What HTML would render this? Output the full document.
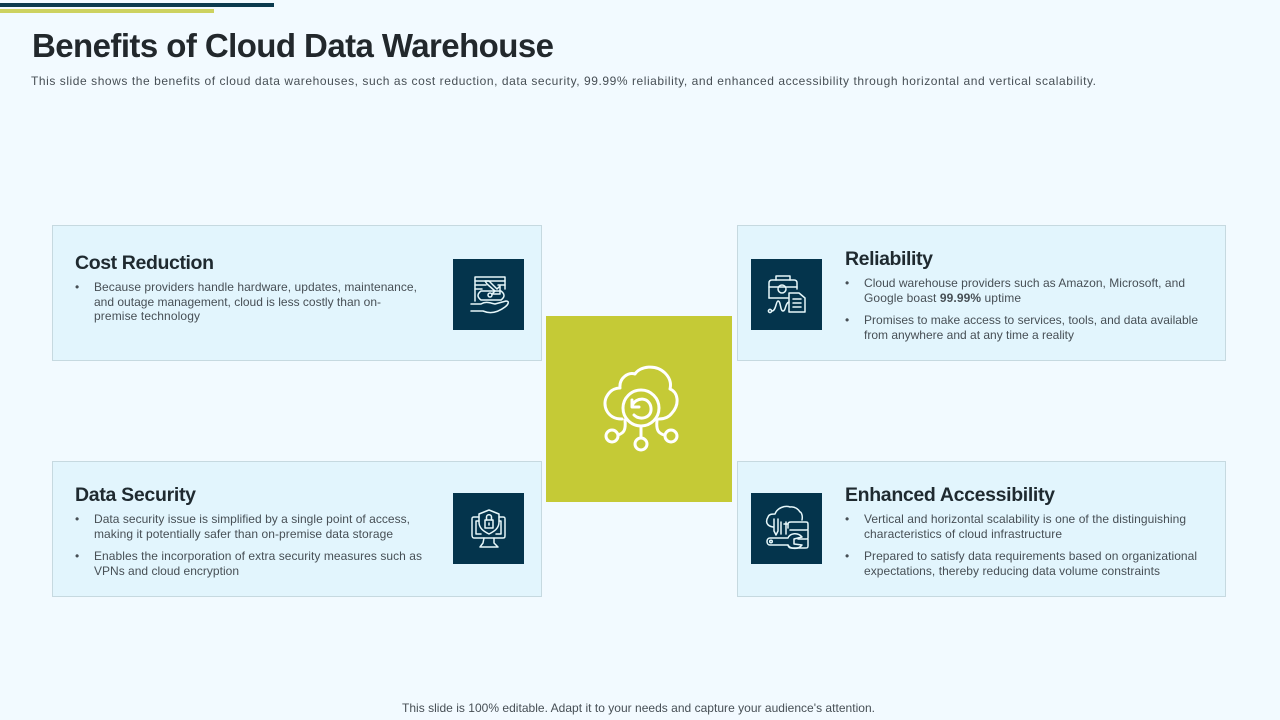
<!DOCTYPE html>
<html><head><meta charset="utf-8"><title>Benefits of Cloud Data Warehouse</title>
<style>
html,body{margin:0;padding:0;background:#f2faff}
svg{display:block}
text{font-family:"Liberation Sans",Arial,sans-serif;white-space:pre}
.t{font-weight:700;font-size:19.5px;fill:#1f2a30}
.b{font-size:12px;fill:#474f55}
.i{fill:none;stroke:#e6f7fa;stroke-width:1.5;stroke-linecap:round;stroke-linejoin:round}
.c{fill:none;stroke:#fff;stroke-width:3;stroke-linecap:round;stroke-linejoin:round}
.card{fill:#e2f5fd;stroke:#c6d9e0;stroke-width:1}
</style></head><body>
<svg width="1280" height="720" viewBox="0 0 1280 720" xmlns="http://www.w3.org/2000/svg">
<rect width="1280" height="720" fill="#f2faff"/>
<rect x="0" y="3" width="274" height="4" fill="#0b3a4e"/>
<rect x="0" y="9" width="214" height="4" fill="#cdd260"/>
<text x="32" y="57" font-size="33" font-weight="700" fill="#22282c" textLength="522" lengthAdjust="spacing">Benefits of Cloud Data Warehouse</text>
<text x="31" y="85" class="b" textLength="1065" lengthAdjust="spacing">This slide shows the benefits of cloud data warehouses, such as cost reduction, data security, 99.99% reliability, and enhanced accessibility through horizontal and vertical scalability.</text>

<rect class="card" x="52.5" y="225.5" width="489" height="135"/>
<rect class="card" x="737.5" y="225.5" width="488" height="135"/>
<rect class="card" x="52.5" y="461.5" width="489" height="135"/>
<rect class="card" x="737.5" y="461.5" width="488" height="135"/>
<rect x="546" y="316" width="186" height="186" fill="#c5ca36"/>

<!-- center icon -->
<g class="c">
<path d="M622 419 C606 419 602 404 607 396 C611 389 617 388 620 388 C619 378 628 372 635 374 C640 366 656 364 665 373 C671 379 671 385 670 389 C678 392 680 404 672 413 C669 417 665 419 659 419"/>
<circle cx="641" cy="408" r="18"/>
<path d="M632 400 L632 407 L639 407 M632 406 C636 396 650 397 651 408 C652 418 640 421 634 415" stroke-width="3"/>
<path d="M641 426 V437"/>
<circle cx="641" cy="444" r="6"/>
<path d="M625 420 C626 430 624 433 618 435"/>
<circle cx="612" cy="436" r="6"/>
<path d="M657 420 C656 430 658 433 664 435"/>
<circle cx="671" cy="436" r="6"/>
</g>

<!-- icon squares -->
<rect x="453" y="259" width="71" height="71" fill="#04344c"/>
<rect x="751" y="259" width="71" height="71" fill="#04344c"/>
<rect x="453" y="493" width="71" height="71" fill="#04344c"/>
<rect x="751" y="493" width="71" height="71" fill="#04344c"/>

<!-- cost -->
<g class="i">
<path d="M475 301 V277 H505 V289"/>
<path d="M475 281 H505 M475 285 H486 M475 289 H482 M498 285 H505"/>
<path d="M485 281 L489 281 L497 289 L500 286 L500 294 L492 294 L495 291 L487 284 Z"/>
<path d="M481 291 H501 C505 294 505 297 501 300 H481 C477 297 477 294 481 291 Z"/>
<circle cx="490" cy="295" r="2"/>
<path d="M471 304 H481 C486 301 490 303 495 304 L506 301 C510 301 508 305 505 307 C497 313 490 314 483 311 H471"/>
</g>
<!-- reliability -->
<g class="i">
<path d="M769 298 V283 C769 281 770 280 772 280 H794 C796 280 797 281 797 283 V289"/>
<path d="M776 280 V276 H790 V280"/>
<path d="M769 287 H797"/>
<circle cx="782" cy="289" r="4"/>
<path d="M769 298 H788"/>
<path d="M789 293 H799 L805 298 V312 H789 Z"/>
<path d="M793 299 H801 M793 303 H801 M793 307 H801"/>
<circle cx="770" cy="311" r="1.6"/>
<path d="M772 311 C776 311 776 301 778 301 C781 301 780 311 783 311 C786 311 785 303 789 302"/>
</g>
<!-- security -->
<g class="i">
<path d="M479 517 H474 C472 517 472 518 472 519 V535 C472 537 473 538 474 538 H503 C505 538 505 537 505 535 V519 C505 518 505 517 503 517 H499"/>
<path d="M476 521 H479 M499 521 H501 M476 521 V534 H481 M496 534 H501 V521"/>
<path d="M484 538 L483 543 L480 547 H498 L494 543 L494 538"/>
<path d="M489 510 L499 514 V522 C499 528 495 531 489 534 C483 531 479 528 479 522 V514 Z"/>
<rect x="485" y="520" width="8" height="8"/>
<path d="M486.500 520 V517 C486.500 514 491.500 514 491.500 517 V520"/>
<path d="M489 523 V525"/>
</g>
<!-- accessibility -->
<g class="i">
<path d="M773 527 C767 526 765 522 768 517 C769 514 772 514 775 514 C777 508 785 505 790 507 C795 506 799 510 800 512 C801 512 803 515 802 520"/>
<path d="M774 519 V531 L776 535 L778 531 V519 M781 522 V534 M786 522 V534 M784 524 H788"/>
<path d="M788 528 V524 C788 522 790 522 791 522 H806 C808 522 808 523 808 525 V529 C808 530 807 530 806 530 H790 M808 530 V538 C808 539 807 539 806 539 H798 M808 539 V546 C808 548 807 548 805 548 H791 C789 548 788 546 788 545"/>
<path d="M788 538 H770 C766 538 766 545 770 545 H788 C790 549 798 550 802 545 L794 544 L794 539 L802 537 C798 532 790 533 788 538 Z"/>
<circle cx="771" cy="541.500" r="1.300"/>
</g>

<!-- text -->
<text x="75" y="269" class="t" textLength="139" lengthAdjust="spacing">Cost Reduction</text>
<text x="75" y="291" class="b">•</text>
<text x="94" y="291" class="b" textLength="323" lengthAdjust="spacing">Because providers handle hardware, updates, maintenance,</text>
<text x="94" y="306" class="b" textLength="287" lengthAdjust="spacing">and outage management, cloud is less costly than on-</text>
<text x="94" y="320" class="b" textLength="106" lengthAdjust="spacing">premise technology</text>

<text x="845" y="265" class="t" textLength="88" lengthAdjust="spacing">Reliability</text>
<text x="845" y="287" class="b">•</text>
<text x="864" y="287" class="b" textLength="321" lengthAdjust="spacing">Cloud warehouse providers such as Amazon, Microsoft, and</text>
<text x="864" y="302" class="b" textLength="157" lengthAdjust="spacing">Google boast <tspan font-weight="700">99.99%</tspan> uptime</text>
<text x="845" y="324" class="b">•</text>
<text x="864" y="324" class="b" textLength="334" lengthAdjust="spacing">Promises to make access to services, tools, and data available</text>
<text x="864" y="339" class="b" textLength="210" lengthAdjust="spacing">from anywhere and at any time a reality</text>

<text x="75" y="501" class="t" textLength="121" lengthAdjust="spacing">Data Security</text>
<text x="75" y="523" class="b">•</text>
<text x="94" y="523" class="b" textLength="316" lengthAdjust="spacing">Data security issue is simplified by a single point of access,</text>
<text x="94" y="538" class="b" textLength="299" lengthAdjust="spacing">making it potentially safer than on-premise data storage</text>
<text x="75" y="560" class="b">•</text>
<text x="94" y="560" class="b" textLength="328" lengthAdjust="spacing">Enables the incorporation of extra security measures such as</text>
<text x="94" y="575" class="b" textLength="145" lengthAdjust="spacing">VPNs and cloud encryption</text>

<text x="845" y="501" class="t" textLength="210" lengthAdjust="spacing">Enhanced Accessibility</text>
<text x="845" y="523" class="b">•</text>
<text x="864" y="523" class="b" textLength="322" lengthAdjust="spacing">Vertical and horizontal scalability is one of the distinguishing</text>
<text x="864" y="538" class="b" textLength="198" lengthAdjust="spacing">characteristics of cloud infrastructure</text>
<text x="845" y="560" class="b">•</text>
<text x="864" y="560" class="b" textLength="333" lengthAdjust="spacing">Prepared to satisfy data requirements based on organizational</text>
<text x="864" y="575" class="b" textLength="296" lengthAdjust="spacing">expectations, thereby reducing data volume constraints</text>

<text x="402" y="712" class="b" textLength="473" lengthAdjust="spacing">This slide is 100% editable. Adapt it to your needs and capture your audience's attention.</text>
</svg>
</body></html>
